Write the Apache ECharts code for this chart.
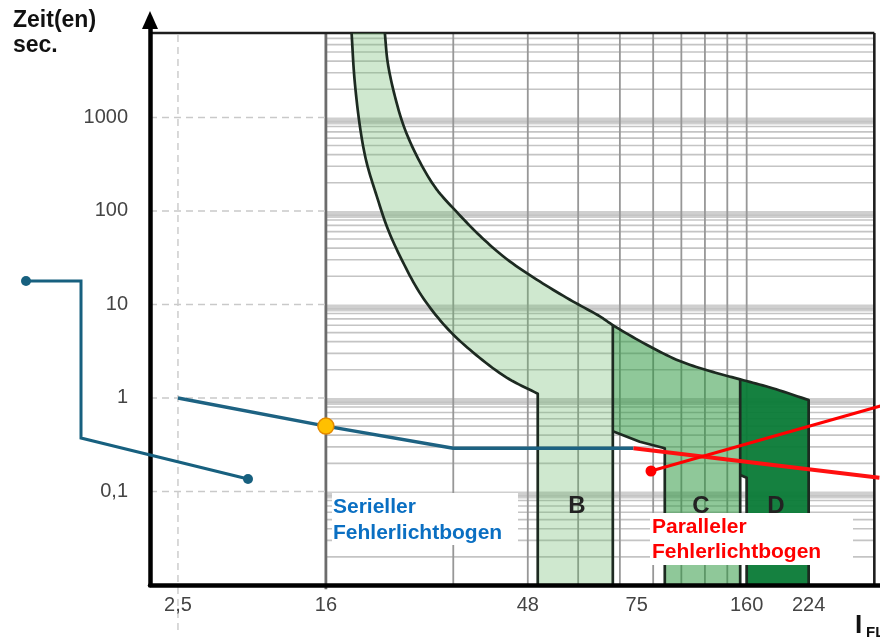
<!DOCTYPE html>
<html><head><meta charset="utf-8">
<script src="https://cdn.jsdelivr.net/npm/echarts@6/dist/echarts.min.js"></script>
<style>html,body{margin:0;padding:0;background:#fff}#c{width:880px;height:644px}</style>
</head><body><div id="c"></div>
<script>
// ---------------- data ----------------
const xTickLabels   = ['2,5', '16', '48', '75', '160', '224'];
const xTickCurrents = [2.5, 16, 48, 75, 160, 224];
const yTickValues   = [0.1, 1, 10, 100, 1000];
const yTickLabels   = ['0,1', '1', '10', '100', '1000'];

// serial arc fault (blue) and parallel arc fault (red)
const serialCurrent   = [2.5, 16, 32, 74];
const serialTime      = [1.0, 0.5, 0.29, 0.29];
const parallelCurrent = [74, 329];
const parallelTime    = [0.29, 0.14];
const pointCurrent = [16];
const pointTime    = [0.5];

// thermal release: lower (min) and upper (max) limit curves
const thermalMinCurrent = [18.4, 18.7, 19.3, 19.96, 21.1, 22.4, 24.3, 26.9, 30.8, 35.6, 42.7, 50.0, 50.0];
const thermalMinTime    = [8000, 2535, 745, 332, 144, 64.4, 28.7, 12.5, 5.70, 3.08, 1.66, 1.11, 0.01];
const thermalMaxCurrent = [22.05, 22.4, 23.3, 24.6, 26.7, 29.2, 32.6, 37.0, 42.7, 50.4, 57.7, 64.5, 68.0, 80.3, 100.9, 126.6, 153, 184.2, 224];
const thermalMaxTime    = [8000, 3850, 1671, 745, 332, 171, 97.5, 54.2, 30.8, 17.6, 10.8, 7.45, 6.01, 3.71, 2.48, 1.90, 1.58, 1.27, 0.95];

// magnetic release band edges
const bRightCurrent = 68;
const cLowerCurrent = [68, 76.6, 91, 91];
const cLowerTime    = [0.44, 0.34, 0.29, 0.01];
const cRightCurrent = 153;
const dLowerCurrent = [153, 160, 160];
const dLowerTime    = [0.15, 0.14, 0.01];
const dRightCurrent = 224;

// grid paper
const gridVerticalCurrents = [32, 48, 59, 70, 84, 102, 120, 140, 160];
const gridStartCurrent = 16;
const frameRightCurrent = 320;
const frameTopTime = 8000;
const xMinCurrent = 1.76, xMaxCurrent = 330;
const yMin = 0.01, yMax = 11000;

// ------------- schematic current scale -------------
const anchorPos = [28, 176, 378, 487, 597, 659];
const anchorLog = xTickCurrents.map(Math.log10);
function u(I) {
  const L = Math.log10(I);
  let k = 0;
  if (L >= anchorLog[anchorLog.length - 1]) k = anchorLog.length - 2;
  else if (L > anchorLog[0]) { while (L > anchorLog[k + 1]) k++; }
  const s = (anchorPos[k + 1] - anchorPos[k]) / (anchorLog[k + 1] - anchorLog[k]);
  return anchorPos[k] + (L - anchorLog[k]) * s;
}
const P = (c, t) => [u(c), t];

// centripetal Catmull-Rom rendering of a curve through pixel points
const SEG = 10;
function spline(pts) {
  const out = [];
  const n = pts.length;
  const d = (a, b) => Math.max(Math.pow(Math.hypot(b[0] - a[0], b[1] - a[1]), 0.5), 1e-4);
  for (let i = 0; i < n - 1; i++) {
    const p1 = pts[i], p2 = pts[i + 1];
    const p0 = i > 0 ? pts[i - 1] : [2 * p1[0] - p2[0], 2 * p1[1] - p2[1]];
    const p3 = i < n - 2 ? pts[i + 2] : [2 * p2[0] - p1[0], 2 * p2[1] - p1[1]];
    const t0 = 0, t1 = t0 + d(p0, p1), t2 = t1 + d(p1, p2), t3 = t2 + d(p2, p3);
    for (let j = 0; j < SEG; j++) {
      const t = t1 + (t2 - t1) * j / SEG;
      const L = (a, b, ta, tb) => [(tb - t) / (tb - ta) * a[0] + (t - ta) / (tb - ta) * b[0], (tb - t) / (tb - ta) * a[1] + (t - ta) / (tb - ta) * b[1]];
      const A1 = L(p0, p1, t0, t1), A2 = L(p1, p2, t1, t2), A3 = L(p2, p3, t2, t3);
      const B1 = L(A1, A2, t0, t2), B2 = L(A2, A3, t1, t3);
      out.push(L(B1, B2, t1, t2));
    }
  }
  out.push(pts[n - 1]);
  return out;
}

const FONT = '"Liberation Sans", Arial, Helvetica, sans-serif';

function renderGrid(params, api) {
  const ch = [];
  const xL = u(gridStartCurrent), xR = u(frameRightCurrent), x0 = u(xMinCurrent);
  const ln = (a, b, style) => {
    const p1 = api.coord(a), p2 = api.coord(b);
    ch.push({ type: 'line', shape: { x1: p1[0], y1: p1[1], x2: p2[0], y2: p2[1] }, style });
  };
  for (let e = -1; e <= 3; e++) {
    const v = Math.pow(10, e);
    const p1 = api.coord([xL, v]), p2 = api.coord([xR, v * 0.84]);
    ch.push({ type: 'rect', shape: { x: p1[0], y: p1[1], width: p2[0] - p1[0], height: p2[1] - p1[1] }, style: { fill: '#cfcfcf' } });
  }
  for (let e = -2; e <= 3; e++) {
    for (let m = 2; m <= 9; m++) {
      const v = m * Math.pow(10, e);
      if (v > frameTopTime) continue;
      ln([xL, v], [xR, v], { stroke: '#c4c4c4', lineWidth: 1.6 });
    }
  }
  gridVerticalCurrents.forEach(c => ln([u(c), yMin], [u(c), frameTopTime], { stroke: '#979797', lineWidth: 1.8 }));
  ln([xL, yMin * 0.9], [xL, frameTopTime], { stroke: '#6c6c6c', lineWidth: 2.8 });
  yTickValues.forEach(v => ln([x0, v], [xL, v], { stroke: '#c9c9c9', lineWidth: 1.5, lineDash: [7, 5] }));
  ln([u(2.5), yMin * 0.33], [u(2.5), frameTopTime], { stroke: '#cdcdcd', lineWidth: 1.5, lineDash: [7, 5] });
  ln([x0, frameTopTime], [xR, frameTopTime], { stroke: '#1e1e1e', lineWidth: 2.6 });
  ln([xR, frameTopTime], [xR, yMin], { stroke: '#1e1e1e', lineWidth: 2.6 });
  return { type: 'group', children: ch };
}

function renderTrip(params, api) {
  const px = (c, t) => api.coord([u(c), t]);
  const nMin = thermalMinCurrent.length;
  const minCurve = spline(thermalMinCurrent.slice(0, nMin - 1).map((c, i) => px(c, thermalMinTime[i])))
    .concat([px(thermalMinCurrent[nMin - 1], thermalMinTime[nMin - 1])]);
  const maxCurve = spline(thermalMaxCurrent.map((c, i) => px(c, thermalMaxTime[i])));
  const iB = thermalMaxCurrent.indexOf(bRightCurrent) * SEG;
  const iC = thermalMaxCurrent.indexOf(cRightCurrent) * SEG;
  const cLower = cLowerCurrent.map((c, i) => px(c, cLowerTime[i]));
  const dLower = dLowerCurrent.map((c, i) => px(c, dLowerTime[i]));

  const polyB = minCurve.concat([px(bRightCurrent, yMin)], maxCurve.slice(0, iB + 1).reverse());
  const polyC = maxCurve.slice(iB, iC + 1).concat([px(cRightCurrent, yMin)], cLower.slice().reverse());
  const polyD = maxCurve.slice(iC).concat([px(dRightCurrent, yMin)], dLower.slice().reverse());

  const stroke = { stroke: '#1d2a21', lineWidth: 2.7, fill: null, lineJoin: 'round' };
  const pl = pts => ({ type: 'polyline', shape: { points: pts }, style: stroke });
  return {
    type: 'group', children: [
      { type: 'polygon', shape: { points: polyB }, style: { fill: 'rgba(105,185,105,0.32)' } },
      { type: 'polygon', shape: { points: polyC }, style: { fill: 'rgba(40,150,60,0.52)' } },
      { type: 'polygon', shape: { points: polyD }, style: { fill: 'rgba(8,122,54,0.95)' } },
      pl(minCurve),
      pl(maxCurve.concat([px(dRightCurrent, yMin)])),
      pl([px(bRightCurrent, thermalMaxTime[thermalMaxCurrent.indexOf(bRightCurrent)]), px(bRightCurrent, yMin)]),
      pl(cLower),
      pl([px(cRightCurrent, thermalMaxTime[thermalMaxCurrent.indexOf(cRightCurrent)]), px(cRightCurrent, yMin)]),
      pl(dLower)
    ]
  };
}

const chart = echarts.init(document.getElementById('c'));
chart.setOption({
  animation: false,
  backgroundColor: '#fff',
  grid: { left: 150, right: 0, top: 20, bottom: 59, containLabel: false, outerBoundsMode: 'none' },
  xAxis: {
    type: 'value', min: u(xMinCurrent), max: u(xMaxCurrent), z: 10,
    axisLine: { show: true, lineStyle: { color: '#000', width: 4.5 } },
    axisTick: { show: false },
    splitLine: { show: false },
    axisLabel: {
      customValues: xTickCurrents.map(u), margin: 10,
      color: '#444', fontSize: 20, fontFamily: FONT,
      formatter: v => { const i = xTickCurrents.findIndex(c => Math.abs(u(c) - v) < 1e-6); return i >= 0 ? xTickLabels[i] : ''; }
    }
  },
  yAxis: {
    type: 'log', logBase: 10, min: yMin, max: yMax, z: 10,
    axisLine: { show: true, symbol: ['none', 'triangle'], symbolSize: [16, 18], lineStyle: { color: '#000', width: 4.5 } },
    axisTick: { show: false },
    splitLine: { show: false },
    axisLabel: {
      margin: 22, color: '#444', fontSize: 20, fontFamily: FONT,
      formatter: v => { const i = yTickValues.findIndex(t => Math.abs(Math.log10(t) - Math.log10(v)) < 1e-6); return i >= 0 ? yTickLabels[i] : ''; }
    }
  },
  series: [
    { type: 'custom', z: 1, silent: true, renderItem: renderGrid, data: [[u(gridStartCurrent), 1]], encode: { x: 0, y: 1 } },
    { type: 'custom', z: 2, silent: true, renderItem: renderTrip, data: [[u(thermalMaxCurrent[0]), thermalMaxTime[0]]], encode: { x: 0, y: 1 } },
    { type: 'line', z: 4, showSymbol: false, data: serialCurrent.map((c, i) => P(c, serialTime[i])), lineStyle: { color: '#1d6282', width: 3.5 } },
    { type: 'line', z: 4, showSymbol: false, data: parallelCurrent.map((c, i) => P(c, parallelTime[i])), lineStyle: { color: '#ff1010', width: 4 } },
    { type: 'scatter', z: 6, symbolSize: 16, data: pointCurrent.map((c, i) => P(c, pointTime[i])), itemStyle: { color: '#ffc000', borderColor: '#e38a00', borderWidth: 1.5, opacity: 1 } }
  ],
  graphic: [
    { type: 'text', z: 100, x: 13, y: 21, style: { text: 'Zeit(en)', font: 'bold 23px ' + FONT, fill: '#111', verticalAlign: 'middle' } },
    { type: 'text', z: 100, x: 13, y: 46, style: { text: 'sec.', font: 'bold 23px ' + FONT, fill: '#111', verticalAlign: 'middle' } },
    { type: 'text', z: 50, x: 577, y: 506.5, style: { text: 'B', font: 'bold 24px ' + FONT, fill: '#222', align: 'center', verticalAlign: 'middle' } },
    { type: 'text', z: 50, x: 701, y: 506.5, style: { text: 'C', font: 'bold 24px ' + FONT, fill: '#222', align: 'center', verticalAlign: 'middle' } },
    { type: 'text', z: 50, x: 776, y: 506.5, style: { text: 'D', font: 'bold 24px ' + FONT, fill: '#222', align: 'center', verticalAlign: 'middle' } },
    { type: 'rect', z: 100, shape: { x: 332, y: 493, width: 186, height: 52 }, style: { fill: '#fff' } },
    { type: 'rect', z: 100, shape: { x: 650, y: 513, width: 203, height: 52 }, style: { fill: '#fff' } },
    { type: 'text', z: 101, x: 333, y: 507.5, style: { text: 'Serieller', font: 'bold 21px ' + FONT, fill: '#0a6fc2', verticalAlign: 'middle' } },
    { type: 'text', z: 101, x: 333, y: 533.5, style: { text: 'Fehlerlichtbogen', font: 'bold 21px ' + FONT, fill: '#0a6fc2', verticalAlign: 'middle' } },
    { type: 'text', z: 101, x: 652, y: 527.5, style: { text: 'Paralleler', font: 'bold 21px ' + FONT, fill: '#ff0000', verticalAlign: 'middle' } },
    { type: 'text', z: 101, x: 652, y: 552.5, style: { text: 'Fehlerlichtbogen', font: 'bold 21px ' + FONT, fill: '#ff0000', verticalAlign: 'middle' } },
    { type: 'polyline', z: 102, shape: { points: [[26, 281], [81, 281], [81, 438], [248, 479]] }, style: { stroke: '#17607f', lineWidth: 3, fill: null } },
    { type: 'circle', z: 102, shape: { cx: 26, cy: 281, r: 5 }, style: { fill: '#17607f' } },
    { type: 'circle', z: 102, shape: { cx: 248, cy: 479, r: 5 }, style: { fill: '#17607f' } },
    { type: 'line', z: 102, shape: { x1: 651, y1: 471, x2: 884, y2: 405 }, style: { stroke: '#ff0000', lineWidth: 3.2 } },
    { type: 'circle', z: 102, shape: { cx: 651, cy: 471, r: 5.5 }, style: { fill: '#ff0000' } },
    { type: 'text', z: 100, x: 855, y: 626, style: { text: 'I', font: 'bold 26px ' + FONT, fill: '#111', verticalAlign: 'middle' } },
    { type: 'text', z: 100, x: 866, y: 633, style: { text: 'FL', font: 'bold 15px ' + FONT, fill: '#111', verticalAlign: 'middle' } }
  ]
});
</script></body></html>
